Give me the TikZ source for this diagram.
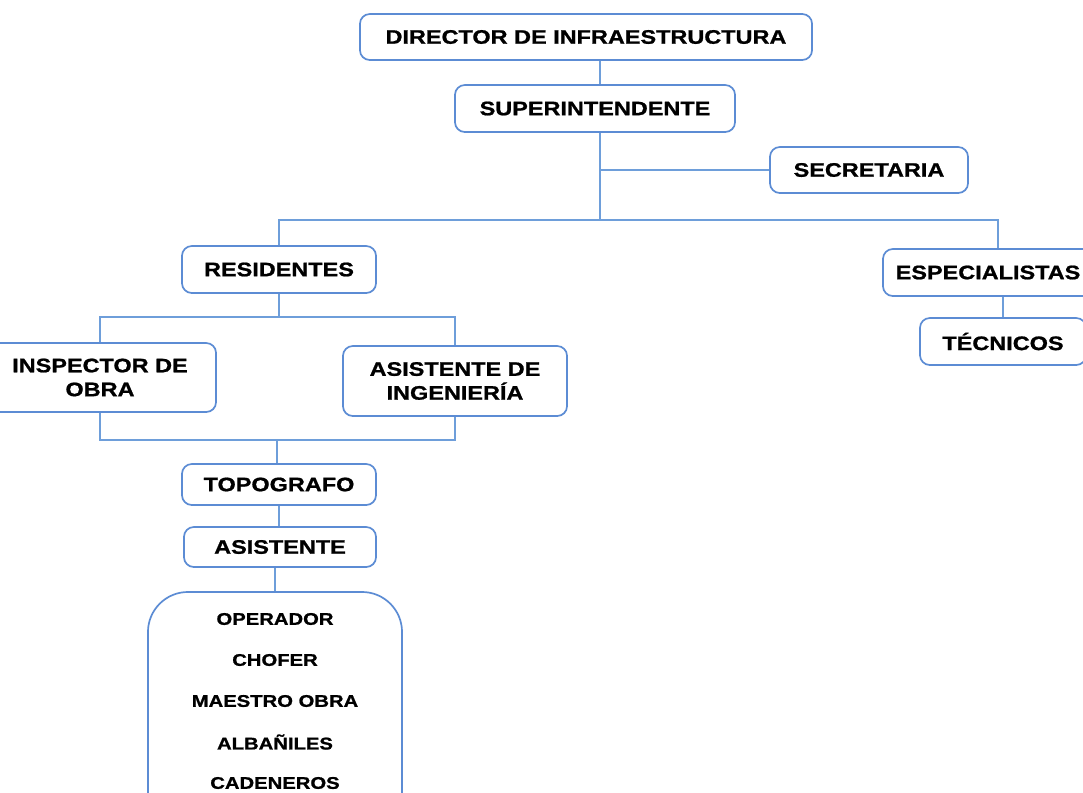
\documentclass[tikz,border=0pt]{standalone}
\usepackage{fontspec}
\newfontfamily\boxfont{Liberation Sans}[FakeStretch=1.2,FakeBold=1]

\definecolor{bordo}{RGB}{92,140,212}
\definecolor{linea}{RGB}{110,158,218}

\tikzset{
    ruolo/.style={draw=bordo, line width=1.2pt, rounded corners=7pt, fill=white,
        font=\boxfont\bfseries\fontsize{13.9}{17}\selectfont, align=center, inner sep=0pt},
    nesso/.style={draw=linea, line width=1pt},
    voce/.style={font=\boxfont\bfseries\fontsize{12}{14}\selectfont, inner sep=0pt}
}

\begin{document}
\begin{tikzpicture}[x=0.025cm, y=-0.025cm]
        % Cornice della figura (1083 x 792)
        \useasboundingbox (0,0) rectangle (1083,792);
        \fill[white] (0,0) rectangle (1083,792);
        \clip (0,0) rectangle (1083,792);

        % Direzione
        \node[ruolo, minimum width=11.3cm, minimum height=1.15cm] (dir) at (586,37) {DIRECTOR DE INFRAESTRUCTURA};
        \node[ruolo, minimum width=7cm, minimum height=1.175cm] (sup) at (595,108.5) {SUPERINTENDENTE};
        \node[ruolo, minimum width=4.95cm, minimum height=1.15cm] (sec) at (869,170) {SECRETARIA};

        % Secondo livello
        \node[ruolo, minimum width=4.85cm, minimum height=1.175cm] (res) at (279,269.5) {RESIDENTES};
        \node[ruolo, minimum width=5.25cm, minimum height=1.175cm] (esp) at (988,272.5) {ESPECIALISTAS};
        \node[ruolo, minimum width=4.15cm, minimum height=1.175cm] (tec) at (1003,341.5) {TÉCNICOS};

        % Terzo livello
        \node[ruolo, minimum width=5.8cm, minimum height=1.725cm] (insp) at (100,377.5) {INSPECTOR DE\\OBRA};
        \node[ruolo, minimum width=5.6cm, minimum height=1.75cm] (ing) at (455,381) {ASISTENTE DE\\INGENIERÍA};
        \node[ruolo, minimum width=4.85cm, minimum height=1.025cm] (topo) at (279,484.5) {TOPOGRAFO};
        \node[ruolo, minimum width=4.8cm, minimum height=1cm] (asis) at (280,547) {ASISTENTE};

        % Squadra di cantiere
        \node[ruolo, rounded corners=1cm, minimum width=6.35cm, minimum height=6cm] (squadra) at (275,712) {};
        \foreach \t [count=\k] in {OPERADOR, CHOFER, MAESTRO OBRA, ALBAÑILES, CADENEROS} {
            \node[voce] (v\k) at (275, 578+41*\k) {\t};
        }

        % Collegamenti
        \coordinate (tronco) at (600,220);
        \coordinate (ramoesp) at (998,220);
        \draw[nesso] (dir.south -| tronco) -- (sup.north -| tronco);
        \draw[nesso] (sup.south -| tronco) -- (tronco);
        \draw[nesso] (tronco |- sec.west) -- (sec.west);
        \draw[nesso] (res.north) |- (tronco) -- (ramoesp) -- (ramoesp |- esp.north);
        \draw[nesso] (tec.north |- esp.south) -- (tec.north);

        \draw[nesso] (res.south) -- ++(0,23) coordinate (r1);
        \draw[nesso] (insp.north) |- (r1) -| (ing.north);
        \coordinate (r2) at (277,440);
        \draw[nesso] (insp.south) |- (r2) -| (ing.south);
        \draw[nesso] (r2) -- (r2 |- topo.north);
        \draw[nesso] (topo.south) -- (topo.south |- asis.north);
        \draw[nesso] (asis.south -| squadra.north) -- (squadra.north);
\end{tikzpicture}
\end{document}
